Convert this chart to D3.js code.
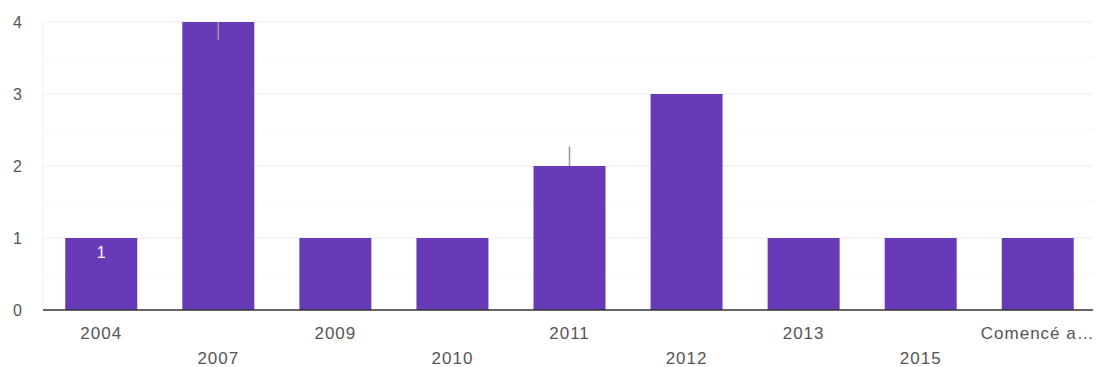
<!DOCTYPE html>
<html><head><meta charset="utf-8">
<script src="https://cdn.jsdelivr.net/npm/d3@7"></script>
<style>body{margin:0;background:#fff}text{font-family:Arial,"Liberation Sans",sans-serif}</style>
</head><body>
<svg id="c" width="1099" height="367"></svg>
<script>
const categories = ["2004","2007","2009","2010","2011","2012","2013","2015","Comencé a…"];
const values = [1,4,1,1,2,3,1,1,1];
const yTicks = [0,1,2,3,4];
const minorTicks = [0.5,1.5,2.5,3.5];

(function(){
const svg = d3.select("#c");
const L = 43, R = 1096, T = 22, B = 310;
const x = d3.scaleBand().domain(categories).range([L, R]).paddingInner(0.385).paddingOuter(0.19);
const y = d3.scaleLinear().domain([0,4]).range([B, T]);

svg.append("line").attr("x1",L).attr("x2",L).attr("y1",T).attr("y2",B).attr("stroke","#f0f0f0");
svg.selectAll(".minor").data(minorTicks).enter().append("line")
  .attr("x1",L).attr("x2",1093).attr("y1",d=>y(d)).attr("y2",d=>y(d)).attr("stroke","#f6f6f6");
svg.selectAll(".major").data(yTicks.filter(d=>d>0)).enter().append("line")
  .attr("x1",L).attr("x2",1093).attr("y1",d=>y(d)).attr("y2",d=>y(d)).attr("stroke","#ececec");

svg.selectAll(".ylab").data(yTicks).enter().append("text")
  .attr("x",22).attr("y",d=>y(d)+6).attr("text-anchor","end")
  .attr("font-size",16).attr("fill","#555").text(d=>d);

svg.selectAll(".bar").data(values).enter().append("rect")
  .attr("x",(d,i)=>x(categories[i])).attr("width",x.bandwidth())
  .attr("y",d=>y(d)).attr("height",d=>B-y(d)).attr("fill","#673ab7");

svg.append("line").attr("x1",L).attr("x2",1093).attr("y1",B).attr("y2",B).attr("stroke","#333").attr("stroke-width",1.5);

svg.selectAll(".xlab").data(categories).enter().append("text")
  .attr("x",(d)=>x(d)+x.bandwidth()/2)
  .attr("y",(d,i)=> i%2===0 ? 339 : 364)
  .attr("text-anchor","middle").attr("font-size",17).attr("letter-spacing",1)
  .attr("fill","#555").text(d=>d);

svg.append("text").attr("x",x(categories[0])+x.bandwidth()/2).attr("y",y(values[0])+20)
  .attr("text-anchor","middle").attr("font-size",16).attr("fill","#fff").text(values[0]);

svg.append("line").attr("x1",x(categories[1])+x.bandwidth()/2).attr("x2",x(categories[1])+x.bandwidth()/2)
  .attr("y1",y(4)).attr("y2",y(3.75)).attr("stroke","#999").attr("stroke-width",1.5);
svg.append("line").attr("x1",x(categories[4])+x.bandwidth()/2).attr("x2",x(categories[4])+x.bandwidth()/2)
  .attr("y1",y(2.27)).attr("y2",y(2)).attr("stroke","#999").attr("stroke-width",1.5);
})();
</script>
</body></html>
